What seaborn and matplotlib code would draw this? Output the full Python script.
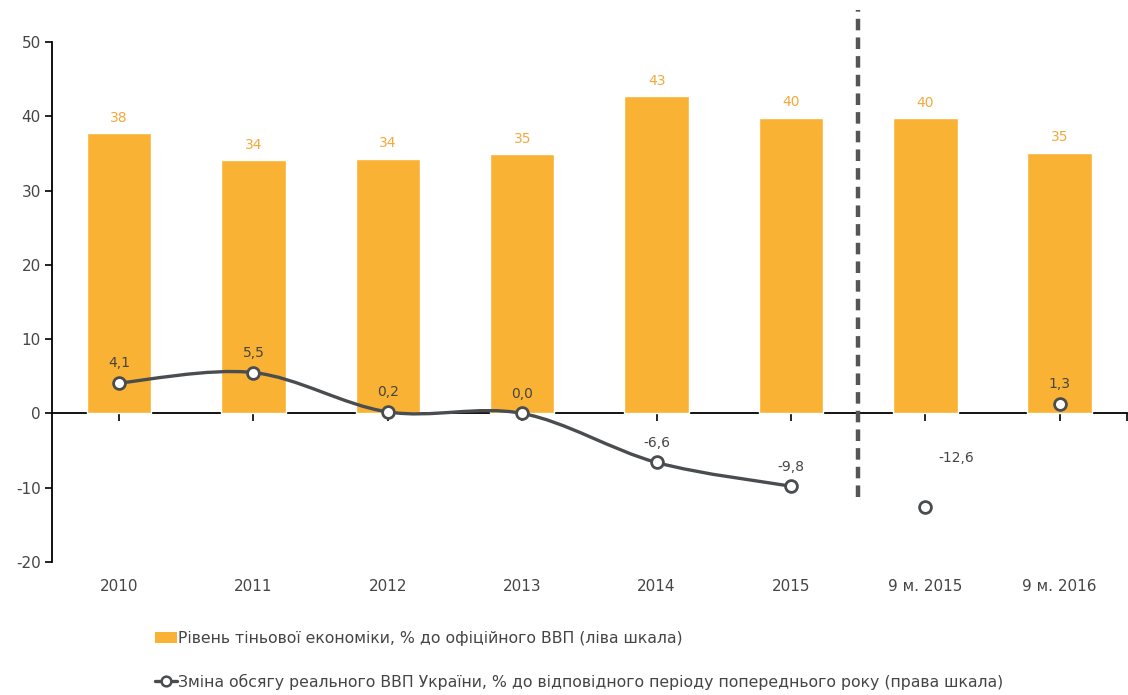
import numpy as np
import pandas as pd
import matplotlib
matplotlib.use('Agg')
import matplotlib.pyplot as plt
import seaborn as sns
from matplotlib.path import Path
from matplotlib.patches import PathPatch, Patch
from matplotlib.lines import Line2D

# ---------------- data ----------------
categories = ['2010', '2011', '2012', '2013', '2014', '2015', '9 м. 2015', '9 м. 2016']
shadow_share = [37.7, 34.1, 34.3, 34.9, 42.7, 39.8, 39.7, 35.1]
shadow_labels = ['38', '34', '34', '35', '43', '40', '40', '35']
gdp_annual = [4.1, 5.5, 0.2, 0.0, -6.6, -9.8]
gdp_9m = [-12.6, 1.3]
gdp_labels = ['4,1', '5,5', '0,2', '0,0', '-6,6', '-9,8', '-12,6', '1,3']
y_ticks = [-20, -10, 0, 10, 20, 30, 40, 50]
legend_bar = 'Рівень тіньової економіки, % до офіційного ВВП (ліва шкала)'
legend_line = 'Зміна обсягу реального ВВП України, % до відповідного періоду попереднього року (права шкала)'

BAR = '#F9B233'
BAR_TXT = '#F2A93B'
LINE = '#4A4D4F'
TXT = '#454545'

sns.set_theme(style='white')
plt.rcParams['font.family'] = ['DejaVu Sans']
plt.rcParams['axes.unicode_minus'] = False

fig = plt.figure(figsize=(11.28, 6.95), dpi=100)
ax = fig.add_axes([0.046, 0.1914, 0.953, 0.7482])

df = pd.DataFrame({'cat': categories, 'val': shadow_share})
sns.barplot(data=df, x='cat', y='val', order=categories, color=BAR,
            width=0.48, saturation=1, ax=ax)
ax.bar_label(ax.containers[0], labels=shadow_labels, padding=6,
             color=BAR_TXT, fontsize=10)

# smooth line through annual values (Catmull-Rom -> cubic Bezier)
xs = np.arange(len(gdp_annual), dtype=float)
ys = np.array(gdp_annual, dtype=float)
P = np.column_stack([xs, ys])
verts = [P[0]]
codes = [Path.MOVETO]
n = len(P)
for i in range(n - 1):
    p0 = P[i - 1] if i > 0 else P[i]
    p1 = P[i]
    p2 = P[i + 1]
    p3 = P[i + 2] if i + 2 < n else P[i + 1]
    c1 = p1 + (p2 - p0) / 6.0
    c2 = p2 - (p3 - p1) / 6.0
    verts += [c1, c2, p2]
    codes += [Path.CURVE4] * 3
ax.add_patch(PathPatch(Path(verts, codes), facecolor='none', edgecolor=LINE,
                       lw=2.4, zorder=3))

pts = pd.DataFrame({'x': list(range(len(categories))),
                    'y': gdp_annual + gdp_9m})
ax.plot(pts['x'], pts['y'], linestyle='none', marker='o', markersize=8.5,
        markerfacecolor='white', markeredgecolor=LINE, markeredgewidth=2,
        zorder=4)

offsets = [(0, 9)] * 6 + [(22, 30), (0, 9)]
for (xv, yv), lbl, off in zip(pts[['x', 'y']].values, gdp_labels, offsets):
    ax.annotate(lbl, (xv, yv), xytext=off, textcoords='offset points',
                ha='center', va='bottom', fontsize=10, color=TXT)

# axes styling
ax.set_xlim(-0.5, len(categories) - 0.5)
ax.set_ylim(-20, 50)
ax.set_yticks(y_ticks)
ax.set_xlabel('')
ax.set_ylabel('')
for s in ['top', 'right', 'bottom']:
    ax.spines[s].set_visible(False)
ax.spines['left'].set_color('black')
ax.spines['left'].set_linewidth(1.3)
ax.tick_params(axis='y', direction='out', length=5, width=1.2, color='black',
               labelsize=11, labelcolor=TXT, left=True, pad=3)
ax.tick_params(axis='x', length=0, labelsize=11, labelcolor=TXT, pad=12)

sec = ax.secondary_xaxis(0, transform=ax.transData)
sec.set_xticks(list(range(len(categories))) + [len(categories) - 0.5])
sec.set_xticklabels([])
sec.tick_params(direction='out', length=6, width=1.2, color='black')
sec.spines['bottom'].set_color('black')
sec.spines['bottom'].set_linewidth(1.3)

ax.axvline(5.5, ymin=0.124, ymax=1.061, color='#555555', lw=3.2,
           linestyle=(0, (2.6, 1.6)), clip_on=False, zorder=5)

handles = [Patch(facecolor=BAR, edgecolor='none'),
           Line2D([0], [0], color=LINE, lw=2.4, marker='o', markersize=7,
                  markerfacecolor='white', markeredgecolor=LINE, markeredgewidth=1.8)]
fig.legend(handles, [legend_bar, legend_line], loc='upper left',
           bbox_to_anchor=(0.137, 0.092), frameon=False, fontsize=11.3,
           labelcolor=TXT, handlelength=1.4, handletextpad=0.1,
           labelspacing=1.75, borderaxespad=0, borderpad=0,
           bbox_transform=fig.transFigure)

fig.savefig('out.png', dpi=100)
